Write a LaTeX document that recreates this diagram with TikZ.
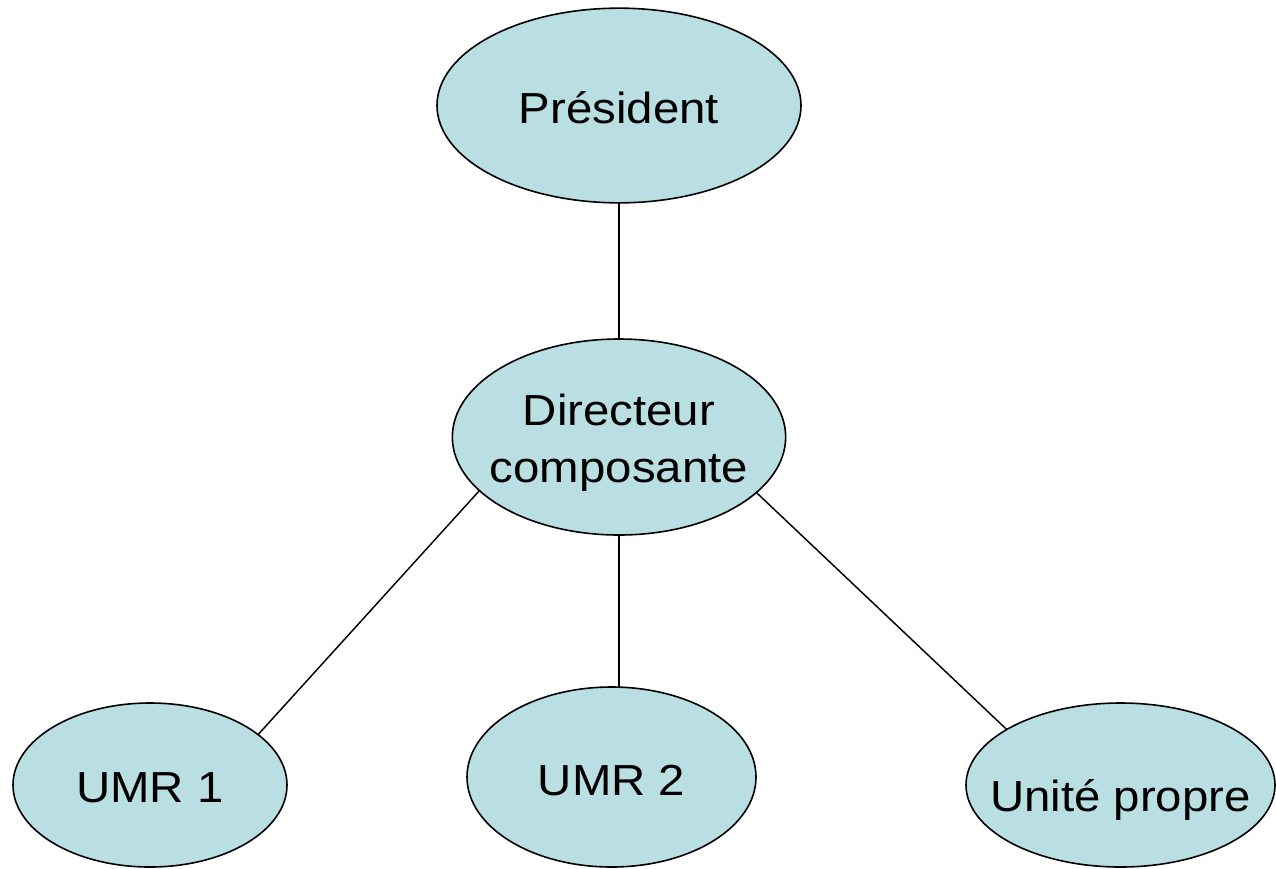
\documentclass[tikz,border=0pt]{standalone}
\usepackage{fontspec}
\setmainfont{Liberation Sans}[FakeStretch=1.09]
\usetikzlibrary{shapes.geometric}
\definecolor{bubblefill}{RGB}{186,223,227}
\begin{document}
\begin{tikzpicture}[x=0.75pt,y=-0.75pt,
  bubble/.style={ellipse, draw=black, line width=1.2pt, fill=bubblefill, inner sep=0pt, outer sep=0pt},
  txt/.style={font=\fontsize{32.6}{42.5}\selectfont, inner sep=0pt, align=center},
  link/.style={draw=black, line width=1.1pt}]
\useasboundingbox (0,0) rectangle (1276,868);
\node[bubble, minimum width=273pt, minimum height=146pt,
  label={[txt, yshift=-1.5pt]center:Président}] (pres) at (619,105.5) {};
\node[bubble, minimum width=250pt, minimum height=147pt,
  label={[txt, yshift=-4.5pt]center:Directeur\\composante}] (dir) at (619,437) {};
\node[bubble, minimum width=205.5pt, minimum height=123pt,
  label={[txt, yshift=-2pt]center:UMR 1}] (umr1) at (150,785) {};
\node[bubble, minimum width=216.75pt, minimum height=135pt,
  label={[txt, yshift=-2.5pt]center:UMR 2}] (umr2) at (611.5,777) {};
\node[bubble, minimum width=231.75pt, minimum height=123pt,
  label={[txt, yshift=-11pt]center:Unité propre}] (unite) at (1120.5,785) {};
\draw[link] (pres.south) -- (dir.north);
\draw[link] (dir.201.7) -- (umr1.25.9);
\draw[link] (dir.south) -- (dir.south |- umr2.north);
\draw[link] (dir.338.2) -- (unite.154.1);
\end{tikzpicture}
\end{document}
